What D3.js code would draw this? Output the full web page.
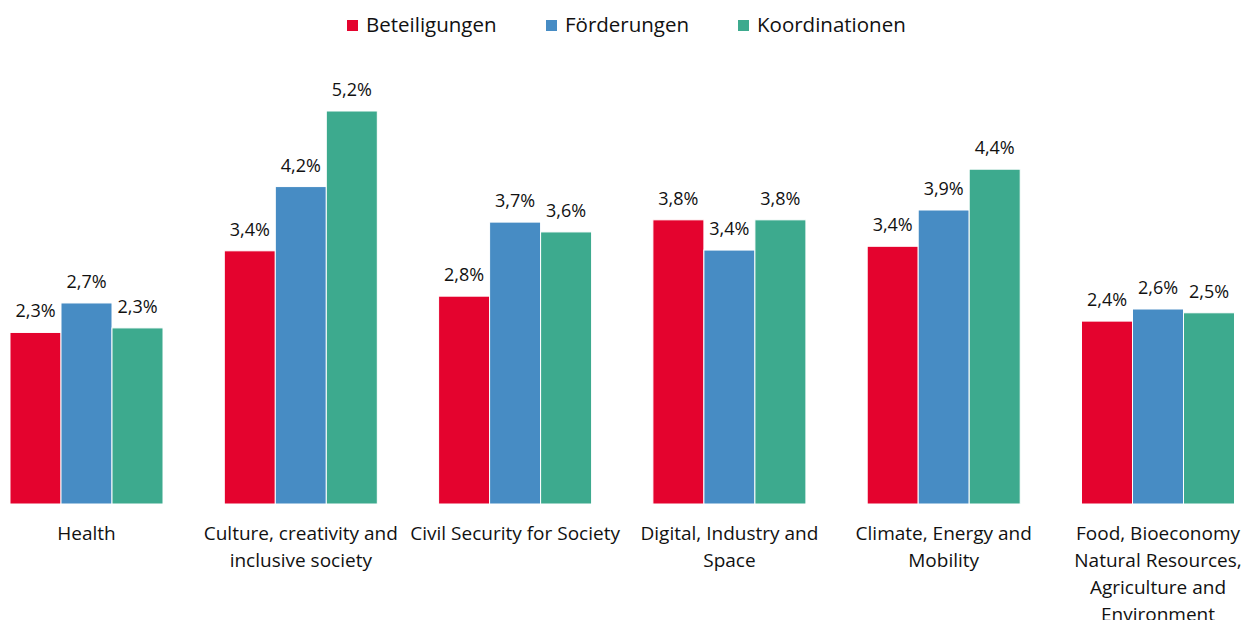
<!DOCTYPE html>
<html>
<head>
<meta charset="utf-8">
<script src="https://cdn.jsdelivr.net/npm/d3@7"></script>
<style>
  body { margin: 0; background: #fff; }
  text { font-family: "Open Sans", sans-serif; fill: #111; }
</style>
</head>
<body>
<svg id="chart" width="1243" height="620"></svg>
<script>
// data
var categories = ["Health", "Culture", "Civil", "Digital", "Climate", "Food"];
var categoryLines = [
  ["Health"],
  ["Culture, creativity and", "inclusive society"],
  ["Civil Security for Society"],
  ["Digital, Industry and", "Space"],
  ["Climate, Energy and", "Mobility"],
  ["Food, Bioeconomy", "Natural Resources,", "Agriculture and", "Environment"]
];
var seriesNames = ["Beteiligungen", "Förderungen", "Koordinationen"];
var beteiligungen = [2.27, 3.35, 2.75, 3.76, 3.41, 2.42];
var foerderungen  = [2.66, 4.20, 3.73, 3.36, 3.89, 2.58];
var koordinationen = [2.33, 5.20, 3.60, 3.76, 4.43, 2.53];
var colors = ["#e4032e", "#478cc4", "#3daa8e"];

var svg = d3.select("#chart");
var baseY = 504;

var x = d3.scaleBand().domain(categories)
  .range([-20.65, 1265.15]).paddingInner(0.286).paddingOuter(0.143);
var xs = d3.scaleBand().domain(seriesNames).range([0, x.bandwidth()]);
var y = d3.scaleLinear().domain([0, 5.2]).range([baseY, 111]);

var allSeries = [beteiligungen, foerderungen, koordinationen];
var fmt = function(v){ return d3.format(".1f")(v).replace(".", ",") + "%"; };

var groups = svg.selectAll(".grp")
  .data(categories).enter().append("g")
  .attr("class", "grp")
  .attr("transform", function(d){ return "translate(" + x(d) + ",0)"; });

groups.each(function(cat, ci){
  var g = d3.select(this);
  var pts = seriesNames.map(function(s, si){ return {s: s, si: si, v: allSeries[si][ci]}; });

  g.selectAll("rect").data(pts).enter().append("rect")
    .attr("x", function(d){ return xs(d.s); })
    .attr("y", function(d){ return y(d.v); })
    .attr("width", xs.bandwidth())
    .attr("height", function(d){ return baseY - y(d.v); })
    .attr("fill", function(d){ return colors[d.si]; })
    .attr("stroke", "#fff")
    .attr("stroke-width", 1);

  g.selectAll("text.val").data(pts).enter().append("text")
    .attr("class", "val")
    .attr("x", function(d){ return xs(d.s) + xs.bandwidth() / 2; })
    .attr("y", function(d){ return y(d.v) - 15; })
    .attr("text-anchor", "middle")
    .attr("font-size", 18)
    .text(function(d){ return fmt(d.v); });

  var lbl = g.append("text")
    .attr("text-anchor", "middle")
    .attr("font-size", 19);
  lbl.selectAll("tspan").data(categoryLines[ci]).enter().append("tspan")
    .attr("x", x.bandwidth() / 2)
    .attr("y", function(d, i){ return 540 + i * 27; })
    .text(function(d){ return d; });
});

// legend
var legendX = [347, 546, 738];
var legend = svg.selectAll(".leg").data(seriesNames).enter().append("g")
  .attr("class", "leg")
  .attr("transform", function(d, i){ return "translate(" + legendX[i] + ",20)"; });
legend.append("rect")
  .attr("width", 11).attr("height", 11)
  .attr("fill", function(d, i){ return colors[i]; });
legend.append("text")
  .attr("x", 19).attr("y", 12)
  .attr("font-size", 20.5)
  .text(function(d){ return d; });
</script>
</body>
</html>
